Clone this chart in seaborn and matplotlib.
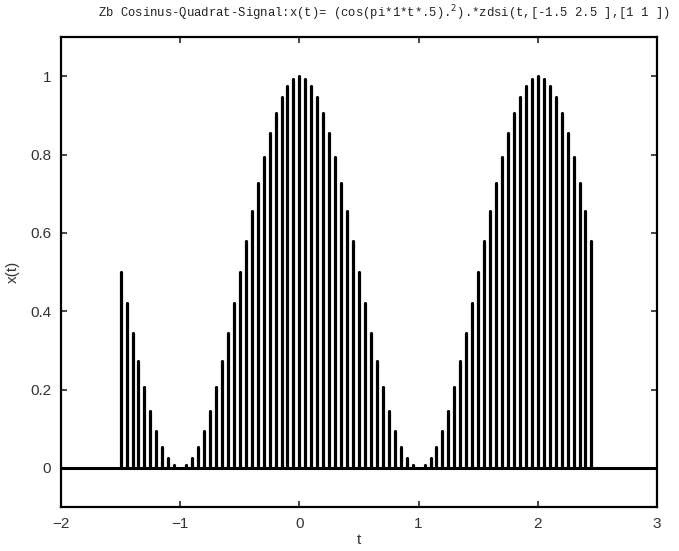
import matplotlib
matplotlib.use('Agg')
import matplotlib.pyplot as plt
import seaborn as sns
import pandas as pd
import numpy as np

# sample instants t = -1.5 : 0.05 : 2.45
t_start = -1.5
t_stop = 2.45
n_samples = 80

# x(t)
x_vals = [
    0.500, 0.422, 0.345, 0.273, 0.206, 0.146, 0.095, 0.054, 0.024, 0.006, 0.000,
    0.006, 0.024, 0.054, 0.095, 0.146, 0.206, 0.273, 0.345, 0.422, 0.500,
    0.578, 0.655, 0.727, 0.794, 0.854, 0.905, 0.946, 0.976, 0.994, 1.000,
    0.994, 0.976, 0.946, 0.905, 0.854, 0.794, 0.727, 0.655, 0.578, 0.500,
    0.422, 0.345, 0.273, 0.206, 0.146, 0.095, 0.054, 0.024, 0.006, 0.000,
    0.006, 0.024, 0.054, 0.095, 0.146, 0.206, 0.273, 0.345, 0.422, 0.500,
    0.578, 0.655, 0.727, 0.794, 0.854, 0.905, 0.946, 0.976, 0.994, 1.000,
    0.994, 0.976, 0.946, 0.905, 0.854, 0.794, 0.727, 0.655, 0.578,
]

x_ticks = [-2, -1, 0, 1, 2, 3]
y_ticks = [0, 0.2, 0.4, 0.6, 0.8, 1]
y_tick_labels = ['0', '0.2', '0.4', '0.6', '0.8', '1']

title = 'Zb Cosinus-Quadrat-Signal:x(t)= (cos(pi*1*t*.5).$^2$).*zdsi(t,[-1.5 2.5 ],[1 1 ])'


def stem_frame(t, x):
    rows = []
    for i, (ti, xi) in enumerate(zip(t, x)):
        rows.append({'t': ti, 'x': 0.0, 'stem': i})
        rows.append({'t': ti, 'x': xi, 'stem': i})
    return pd.DataFrame(rows)


def main():
    sns.set_style('ticks')
    plt.rcParams['font.family'] = ['Liberation Sans', 'DejaVu Sans']

    t = np.linspace(t_start, t_stop, n_samples)
    df = stem_frame(t, x_vals)

    fig = plt.figure(figsize=(6.79, 5.51), dpi=100)
    ax = fig.add_axes([61/679, 1 - 507/551, (657 - 61)/679, (507 - 37)/551])

    sns.lineplot(data=df, x='t', y='x', units='stem', estimator=None,
                 color='black', linewidth=2.3, ax=ax, legend=False)
    ax.axhline(0, color='black', linewidth=2.2, zorder=3)

    ax.set_xlim(-2, 3)
    ax.set_ylim(-0.1, 1.1)
    ax.set_xticks(x_ticks)
    ax.set_xticklabels(['\u22122', '\u22121', '0', '1', '2', '3'])
    ax.set_yticks(y_ticks)
    ax.set_yticklabels(y_tick_labels)
    ax.tick_params(direction='in', length=4, width=1.2, top=True, right=True,
                   labelsize=11, labelcolor='#333333', pad=7)
    for s in ax.spines.values():
        s.set_linewidth(1.6)
        s.set_color('black')

    ax.set_xlabel('t', fontsize=11, color='#333333')
    ax.set_ylabel('x(t)', fontsize=11, color='#333333')
    ax.xaxis.set_label_coords(0.5, -26/470)
    ax.yaxis.set_label_coords(-41/596, 0.5)

    fig.text(384/679, 1 - 13/551, title, ha='center', va='center',
             fontsize=8.8, family=['Liberation Mono', 'DejaVu Sans'], color='#222222')

    plt.savefig('out.png', dpi=100)
    plt.close()


if __name__ == '__main__':
    main()
